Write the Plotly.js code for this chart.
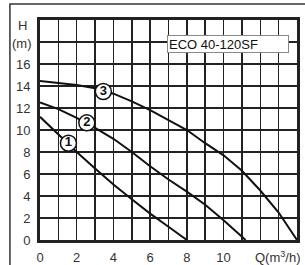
<!DOCTYPE html>
<html><head><meta charset="utf-8">
<script src="https://cdn.plot.ly/plotly-3.0.1.min.js"></script>
<style>html,body{margin:0;padding:0;background:#fff;}#c{width:305px;height:265px;}</style>
</head><body><div id="c"></div>
<script>
const q1 = [0, 1, 2, 3, 4, 5, 6, 7, 8];
const h1 = [11.2, 9.6, 8.0, 6.5, 5.05, 3.7, 2.4, 1.2, 0];
const q2 = [0, 1, 2, 3, 4, 5, 6, 7, 8, 9, 10, 11.2];
const h2 = [12.5, 11.9, 11.1, 10.2, 9.2, 8.0, 6.7, 5.5, 4.4, 3.2, 1.8, 0];
const q3 = [0, 1, 2, 3, 4, 5, 6, 7, 8, 9, 10, 11, 12, 13, 14];
const h3 = [14.45, 14.3, 14.1, 13.8, 13.3, 12.6, 11.8, 10.9, 10.0, 8.8, 7.7, 6.3, 4.5, 2.5, 0];
const curveLabels = ["1", "2", "3"];
const labelQ = [1.55, 2.55, 3.45];
const labelH = [8.8, 10.65, 13.5];
const xTickVals = [0, 2, 4, 6, 8, 10];
const yTickVals = [0, 2, 4, 6, 8, 10, 12, 14, 16];
const modelName = "ECO 40-120SF";

const lineStyle = {color: '#111', width: 2};
const traces = [
  {x: q1, y: h1, mode: 'lines', line: lineStyle, hoverinfo: 'skip'},
  {x: q2, y: h2, mode: 'lines', line: lineStyle, hoverinfo: 'skip'},
  {x: q3, y: h3, mode: 'lines', line: lineStyle, hoverinfo: 'skip'},
  {x: labelQ, y: labelH, mode: 'markers+text', text: curveLabels,
   textposition: 'middle center',
   textfont: {family: 'Liberation Sans, Arial', size: 13, color: '#111', weight: 'bold'},
   marker: {symbol: 'circle', size: 16, color: '#fff', line: {color: '#111', width: 1.5}},
   hoverinfo: 'skip'}
];
const font = {family: 'Liberation Sans, Arial, sans-serif', size: 13, color: '#333'};
const layout = {
  width: 305, height: 265,
  margin: {l: 40, r: 8, t: 20, b: 25},
  paper_bgcolor: '#fff', plot_bgcolor: '#fff',
  showlegend: false,
  font: font,
  xaxis: {range: [0, 14], showgrid: false,
          tickmode: 'array', tickvals: xTickVals, ticktext: xTickVals.map(String),
          showline: true, linecolor: '#222', linewidth: 3, mirror: true, zeroline: false,
          ticks: '', ticklabelstandoff: 3, tickfont: font, fixedrange: true,
          minor: {tickmode: 'linear', tick0: 0, dtick: 1, showgrid: true, gridcolor: '#222', gridwidth: 1.5, ticks: ''}},
  yaxis: {range: [0, 20], showgrid: true, gridcolor: '#222', gridwidth: 2,
          tickmode: 'array', tickvals: yTickVals, ticktext: yTickVals.map(String),
          showline: true, linecolor: '#222', linewidth: 3, mirror: true, zeroline: false,
          ticks: '', ticklabelstandoff: 4, tickfont: font, fixedrange: true},
  shapes: [
    {type: 'rect', xref: 'paper', yref: 'paper', x0: -0.117, x1: 1.3, y0: -0.3, y1: 1.073,
     line: {color: '#333', width: 1.5}, fillcolor: 'rgba(0,0,0,0)', layer: 'below'},
    {type: 'line', xref: 'paper', yref: 'y', x0: 0, x1: 1, y0: 18, y1: 18,
     line: {color: '#222', width: 2}, layer: 'below'}
  ],
  annotations: [
    {xref: 'paper', yref: 'paper', x: -0.07, y: 0.977, xanchor: 'center', yanchor: 'middle',
     text: 'H', showarrow: false, font: font},
    {xref: 'paper', yref: 'paper', x: -0.07, y: 0.895, xanchor: 'center', yanchor: 'middle',
     text: '(m)', showarrow: false, font: font},
    {xref: 'paper', yref: 'paper', x: 0.925, y: -0.075, xanchor: 'center', yanchor: 'middle',
     text: 'Q(m<sup>3</sup>/h)', showarrow: false, font: font},
    {x: 10.25, y: 17.8, text: modelName, showarrow: false, align: 'left', width: 118, height: 14,
     xanchor: 'center', yanchor: 'middle',
     bgcolor: '#fff', bordercolor: '#888', borderwidth: 1, borderpad: 1,
     font: {family: 'Liberation Sans, Arial, sans-serif', size: 13, color: '#111'}}
  ]
};
Plotly.newPlot('c', traces, layout, {staticPlot: true, displayModeBar: false});
</script></body></html>
